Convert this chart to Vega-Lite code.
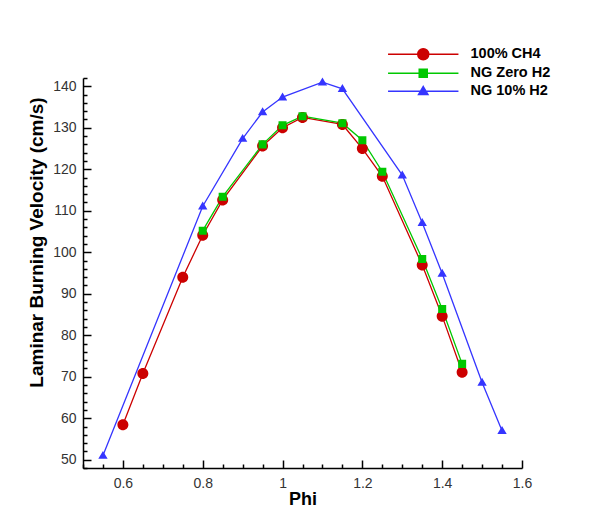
{
  "$schema": "https://vega.github.io/schema/vega-lite/v6.json",
  "width": 439,
  "height": 390,
  "autosize": {"type": "none"},
  "padding": {"left": 83, "top": 78, "right": 67, "bottom": 56},
  "background": "white",
  "config": {
    "view": {"stroke": null},
    "font": "Liberation Sans"
  },
  "data": {
    "values": [
      {"series": "100% CH4", "phi": 0.6, "v": 58.4},
      {"series": "100% CH4", "phi": 0.65, "v": 70.8},
      {"series": "100% CH4", "phi": 0.75, "v": 94.0},
      {"series": "100% CH4", "phi": 0.8, "v": 104.1},
      {"series": "100% CH4", "phi": 0.85, "v": 112.6},
      {"series": "100% CH4", "phi": 0.95, "v": 125.6},
      {"series": "100% CH4", "phi": 1.0, "v": 130.0},
      {"series": "100% CH4", "phi": 1.05, "v": 132.5},
      {"series": "100% CH4", "phi": 1.15, "v": 130.8},
      {"series": "100% CH4", "phi": 1.2, "v": 125.0},
      {"series": "100% CH4", "phi": 1.25, "v": 118.3},
      {"series": "100% CH4", "phi": 1.35, "v": 96.9},
      {"series": "100% CH4", "phi": 1.4, "v": 84.6},
      {"series": "100% CH4", "phi": 1.45, "v": 71.1},
      {"series": "NG Zero H2", "phi": 0.8, "v": 105.2},
      {"series": "NG Zero H2", "phi": 0.85, "v": 113.4},
      {"series": "NG Zero H2", "phi": 0.95, "v": 126.0},
      {"series": "NG Zero H2", "phi": 1.0, "v": 130.6},
      {"series": "NG Zero H2", "phi": 1.05, "v": 132.8},
      {"series": "NG Zero H2", "phi": 1.15, "v": 131.1},
      {"series": "NG Zero H2", "phi": 1.2, "v": 127.0},
      {"series": "NG Zero H2", "phi": 1.25, "v": 119.4},
      {"series": "NG Zero H2", "phi": 1.35, "v": 98.4},
      {"series": "NG Zero H2", "phi": 1.4, "v": 86.3},
      {"series": "NG Zero H2", "phi": 1.45, "v": 73.1},
      {"series": "NG 10% H2", "phi": 0.55, "v": 51.0},
      {"series": "NG 10% H2", "phi": 0.8, "v": 111.1},
      {"series": "NG 10% H2", "phi": 0.9, "v": 127.4},
      {"series": "NG 10% H2", "phi": 0.95, "v": 133.8},
      {"series": "NG 10% H2", "phi": 1.0, "v": 137.4},
      {"series": "NG 10% H2", "phi": 1.1, "v": 141.0},
      {"series": "NG 10% H2", "phi": 1.15, "v": 139.4},
      {"series": "NG 10% H2", "phi": 1.3, "v": 118.6},
      {"series": "NG 10% H2", "phi": 1.35, "v": 107.1},
      {"series": "NG 10% H2", "phi": 1.4, "v": 94.9},
      {"series": "NG 10% H2", "phi": 1.5, "v": 68.6},
      {"series": "NG 10% H2", "phi": 1.55, "v": 57.0}
    ]
  },
  "encoding": {
    "x": {
      "field": "phi", "type": "quantitative",
      "scale": {"domain": [0.5, 1.6], "nice": false, "zero": false},
      "axis": {
        "title": "Phi",
        "values": [0.5, 0.55, 0.6, 0.65, 0.7, 0.75, 0.8, 0.85, 0.9, 0.95, 1.0, 1.05, 1.1, 1.15, 1.2, 1.25, 1.3, 1.35, 1.4, 1.45, 1.5, 1.55, 1.6],
        "labelExpr": "abs(datum.value*5 - round(datum.value*5)) < 0.001 && datum.value > 0.55 ? format(datum.value, '.1~f') : ''",
        "tickSize": {"condition": {"test": "abs(datum.value*5 - round(datum.value*5)) < 0.001", "value": -8}, "value": -4},
        "labelPadding": 16,
        "labelFontSize": 14,
        "labelColor": "#333333",
        "labelFlush": false,
        "labelOverlap": false,
        "tickColor": "black",
        "tickWidth": 1.5,
        "domainColor": "black",
        "domainWidth": 1.5,
        "grid": false,
        "titleFontSize": 18,
        "titleFontWeight": "bold",
        "titleColor": "black",
        "titleY": 36,
        "titleBaseline": "alphabetic"
      }
    },
    "y": {
      "field": "v", "type": "quantitative",
      "scale": {"domain": [48, 142], "nice": false, "zero": false},
      "axis": {
        "title": "Laminar Burning Velocity (cm/s)",
        "values": [48, 50, 52, 54, 56, 58, 60, 62, 64, 66, 68, 70, 72, 74, 76, 78, 80, 82, 84, 86, 88, 90, 92, 94, 96, 98, 100, 102, 104, 106, 108, 110, 112, 114, 116, 118, 120, 122, 124, 126, 128, 130, 132, 134, 136, 138, 140, 142],
        "labelExpr": "datum.value % 10 === 0 ? format(datum.value, 'd') : ''",
        "tickSize": {"condition": {"test": "datum.value % 10 === 0", "value": -8}, "value": -4},
        "labelPadding": 15,
        "labelFontSize": 14,
        "labelColor": "#333333",
        "labelFlush": false,
        "labelOverlap": false,
        "tickColor": "black",
        "tickWidth": 1.5,
        "domainColor": "black",
        "domainWidth": 1.5,
        "grid": false,
        "titleFontSize": 19,
        "titleFontWeight": "bold",
        "titleColor": "black",
        "titleAngle": -90,
        "titleX": -41,
        "titleY": 164,
        "titleAlign": "center",
        "titleBaseline": "alphabetic"
      }
    },
    "color": {
      "field": "series", "type": "nominal",
      "scale": {"domain": ["100% CH4", "NG Zero H2", "NG 10% H2"], "range": ["#cc0000", "#00c800", "#3535ff"]},
      "legend": {
        "title": null,
        "orient": "none",
        "legendX": 333,
        "legendY": -31,
        "labelFont": "Liberation Sans",
        "labelFontSize": 14.5,
        "labelFontWeight": "bold",
        "labelColor": "black",
        "symbolSize": 121,
        "symbolStrokeWidth": 1.5,
        "labelOffset": 40,
        "rowPadding": 2
      }
    }
  },
  "layer": [
    {
      "mark": {"type": "line", "strokeWidth": 1.3}
    },
    {
      "mark": {"type": "point", "filled": true, "opacity": 1, "size": 121, "strokeWidth": 0},
      "encoding": {
        "shape": {
          "field": "series", "type": "nominal",
          "scale": {
            "domain": ["100% CH4", "NG Zero H2", "NG 10% H2"],
            "range": [
              "M-6.4,0H6.4M1,0A1,1,0,1,1,-1,0A1,1,0,1,1,1,0Z",
              "M-6.4,0H6.4M-0.73,-0.73H0.73V0.73H-0.73Z",
              "M-6.4,0H6.4M0,-0.85L0.85,0.6L-0.85,0.6Z"
            ]
          }
        }
      }
    }
  ]
}
